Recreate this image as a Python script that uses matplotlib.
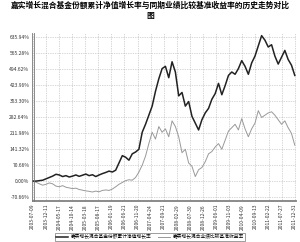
import matplotlib
matplotlib.use("Agg")
import matplotlib.pyplot as plt
import numpy as np

plt.rcParams['font.family'] = ['Noto Sans CJK SC', 'DejaVu Sans']

title = "嘉实增长混合基金份额累计净值增长率与同期业绩比较基准收益率的历史走势对比\n图"
fund_label = "嘉实增长混合基金份额累计净值增长率"
bench_label = "嘉实增长混合业绩比较基准收益率"

date_labels = [
    "2003-07-09", "2003-12-11", "2004-05-17", "2004-10-14", "2005-03-18",
    "2005-08-17", "2006-01-19", "2006-06-21", "2006-11-20", "2007-04-24",
    "2007-09-21", "2008-02-29", "2008-07-30", "2008-12-26", "2009-06-01",
    "2009-11-03", "2010-04-09", "2010-09-13", "2011-02-22", "2011-07-27",
    "2011-12-31",
]
y_ticks = [-70.66, 0.00, 70.66, 141.32, 211.98, 282.64, 353.30, 423.96,
           494.62, 565.28, 635.94]

# cumulative return (%), sampled evenly over the period
fund = [
    0, 0, 2, 4, 10, 16, 22, 30, 27, 20,
    24, 18, 22, 27, 21, 26, 31, 24, 28, 20,
    27, 33, 38, 44, 40, 48, 80, 112, 105, 92,
    120, 128, 140, 215, 250, 290, 330, 395, 450, 495,
    505, 455, 525, 480, 375, 390, 330, 350, 285, 255,
    225, 270, 300, 320, 360, 385, 430, 380, 420, 465,
    480, 470, 495, 530, 505, 470, 520, 550, 595, 640,
    620, 590, 600, 550, 515, 545, 575, 535, 510, 465,
]
bench = [
    0, -5, -12, -18, -14, -8, -12, -22, -25, -20,
    -27, -30, -33, -31, -37, -40, -43, -45, -48, -44,
    -47, -41, -39, -41, -35, -25, -14, -6, 2, 6,
    4, 16, 40, 70, 110, 165, 215, 185, 240, 215,
    230, 195, 265, 240, 195, 125, 140, 80, 65, 20,
    50, 60, 85, 120, 130, 150, 165, 140, 180, 220,
    235, 250, 225, 275, 230, 195, 230, 255, 310, 280,
    290, 300, 305, 290, 270, 250, 265, 235, 210, 158,
]


def main():
    fig = plt.figure(figsize=(3.0, 2.42), dpi=100)
    ax = fig.add_axes([0.107, 0.169, 0.88, 0.695])

    x = np.linspace(0, len(date_labels) - 1, len(fund))
    ax.plot(x, bench, color="#999999", lw=0.7, label=bench_label)
    ax.plot(x, fund, color="#222222", lw=1.1, label=fund_label)

    ax.set_xlim(-0.05, len(date_labels) - 1 + 0.1)
    ax.set_ylim(-88, 652)
    ax.set_xticks(range(len(date_labels)))
    ax.set_xticklabels(date_labels, rotation=90, fontsize=3.6, color="#333333")
    ax.set_yticks(y_ticks)
    ax.set_yticklabels(["%.2f%%" % v for v in y_ticks], fontsize=3.6, color="#333333")
    ax.tick_params(length=0, pad=2)
    ax.grid(True, color="#b0b0b0", lw=0.5, ls=(0, (1, 1.5)))

    for s in ax.spines.values():
        s.set_visible(False)
    # double lines for left and bottom axes
    ax.axvline(-0.05, color="#777777", lw=0.6, clip_on=False)
    ax.axvline(0.07, color="#777777", lw=0.6, clip_on=False)
    ax.axhline(-88, color="#777777", lw=0.6, clip_on=False)
    ax.axhline(-81, color="#777777", lw=0.6, clip_on=False)

    handles, labels = ax.get_legend_handles_labels()
    leg = fig.legend(handles[::-1], labels[::-1], loc="lower center",
                     bbox_to_anchor=(0.5, 0.005), bbox_transform=fig.transFigure,
                     ncol=2, fontsize=3.4, borderaxespad=0.0,
                     frameon=True, fancybox=False, handlelength=2.5,
                     borderpad=0.25, columnspacing=1.5, handletextpad=0.5)
    leg.get_frame().set_edgecolor("#555555")
    leg.get_frame().set_linewidth(0.5)

    fig.text(0.5, 0.995, title, ha="center", va="top", fontsize=5.6,
             fontweight="bold", linespacing=1.1)

    fig.savefig("out.png", dpi=100)


if __name__ == "__main__":
    main()
